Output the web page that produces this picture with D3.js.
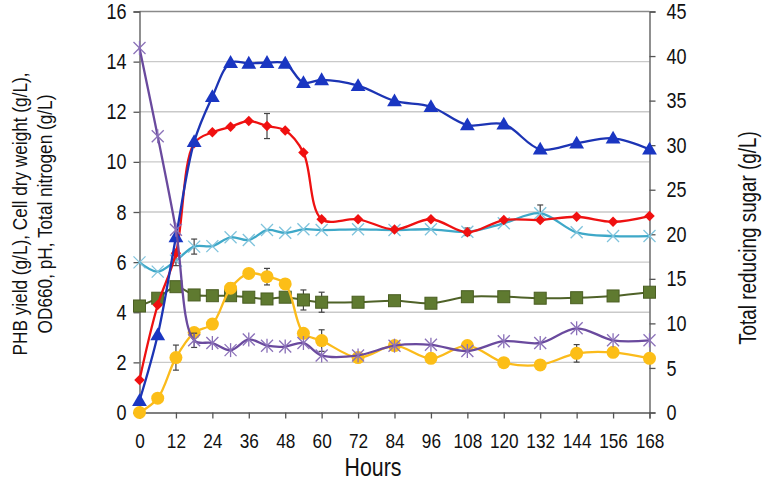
<!DOCTYPE html>
<html><head><meta charset="utf-8">
<script src="https://cdn.jsdelivr.net/npm/d3@7"></script>
<style>
body{margin:0;background:#fff;}
text{font-family:"Liberation Sans",Arial,sans-serif;fill:#111;}
</style></head><body>
<svg id="c" width="763" height="491"></svg>
<script>
const hours = [0,6,12,18,24,30,36,42,48,54,60,72,84,96,108,120,132,144,156,168];
const xTicks = [0,12,24,36,48,60,72,84,96,108,120,132,144,156,168];
const leftTicks = [0,2,4,6,8,10,12,14,16];
const rightTicks = [0,5,10,15,20,25,30,35,40,45];

const blueTri = [0.47,3.09,7.0,10.8,12.6,13.96,13.93,13.96,13.93,13.16,13.27,13.04,12.43,12.2,11.47,11.5,10.5,10.74,10.94,10.5];
const redDia = [1.3,4.29,6.35,10.74,11.18,11.4,11.63,11.43,11.25,10.37,7.71,7.71,7.3,7.71,7.19,7.68,7.68,7.81,7.61,7.84];
const cyanX = [5.99,5.62,6.06,6.62,6.64,6.99,6.88,7.28,7.17,7.31,7.28,7.31,7.28,7.31,7.21,7.55,7.95,7.19,7.04,7.04];
const greenSq = [4.25,4.56,5.02,4.69,4.66,4.66,4.6,4.53,4.6,4.49,4.4,4.4,4.46,4.36,4.62,4.62,4.56,4.58,4.65,4.8];
const yellowCi = [0,0.57,2.19,3.19,3.53,4.96,5.55,5.42,5.13,3.16,2.87,2.19,2.67,2.16,2.67,1.99,1.9,2.36,2.4,2.16];
const purpleSugar = [40.9,31.0,20.5,8.1,7.8,7.0,8.2,7.5,7.4,7.8,6.4,6.4,7.5,7.6,6.9,8.0,7.8,9.45,8.1,8.1];

const redErr = [[42,0.5]];
const cyanErr = [[12,0.2],[18,0.3],[108,0.15],[132,0.33]];
const greenErr = [[54,0.4],[60,0.4]];
const yellowErr = [[12,0.5],[30,0.2],[42,0.33],[60,0.43],[144,0.35]];
const purpleErr = [[18,0.8]];

const SX = 0.82; // horizontal squeeze to mimic a narrow typeface
const svg = d3.select("#c");
const x = d3.scaleLinear().domain([0,168]).range([139.5,649.5]);
const yL = d3.scaleLinear().domain([0,16]).range([412.5,11.5]);
const yR = d3.scaleLinear().domain([0,45]).range([412.5,11.5]);

// gridlines
svg.append("g").selectAll("line").data(leftTicks.filter(d=>d>0)).join("line")
  .attr("x1",x(0)).attr("x2",x(168)).attr("y1",d=>yL(d)).attr("y2",d=>yL(d))
  .attr("stroke",d=>d===16?"#8a8a8a":"#c9c9c9").attr("stroke-width",1.3);

function styleAxis(a, fs){
  a.select(".domain").attr("stroke","#555").attr("stroke-width",1.3);
  a.selectAll(".tick line").attr("stroke","#555").attr("stroke-width",1.3);
  a.selectAll(".tick text").attr("font-size",fs).attr("fill","#111")
   .style("font-family",'"Liberation Sans",Arial,sans-serif');
}
const axL = svg.append("g").attr("transform",`translate(${x(0)},0)`)
  .call(d3.axisLeft(yL).tickValues(leftTicks).tickSize(6).tickPadding(7).tickFormat(d3.format("d")));
styleAxis(axL, 22);
axL.selectAll(".tick text").attr("x",-13/SX).attr("transform",`scale(${SX},1)`);

const axR = svg.append("g").attr("transform",`translate(${x(168)},0)`)
  .call(d3.axisRight(yR).tickValues(rightTicks).tickSize(6).tickPadding(16).tickFormat(d3.format("d")));
styleAxis(axR, 22);
axR.selectAll(".tick text").attr("x",17/SX).attr("transform",`scale(${SX},1)`);

const axB = svg.append("g").attr("transform",`translate(0,${yL(0)})`)
  .call(d3.axisBottom(x).tickValues(xTicks).tickSize(6).tickPadding(12).tickFormat(d3.format("d")));
styleAxis(axB, 21);
axB.selectAll(".tick text")
  .attr("x",0).attr("y",0).attr("dy",null)
  .attr("dominant-baseline","central")
  .attr("transform",`translate(0,28) scale(${SX},1)`);

const curve = d3.curveCatmullRom.alpha(0.5);
function series(vals, yS, color, width){
  const line = d3.line().x((d,i)=>x(hours[i])).y(d=>yS(d)).curve(curve);
  svg.append("path").attr("d",line(vals)).attr("fill","none").attr("stroke",color).attr("stroke-width",width);
}
function errs(list, vals, yS){
  const g = svg.append("g").attr("stroke","#444").attr("stroke-width",1.2);
  list.forEach(([h,e])=>{
    const v = vals[hours.indexOf(h)];
    const cx = x(h);
    g.append("line").attr("x1",cx).attr("x2",cx).attr("y1",yS(v-e)).attr("y2",yS(v+e));
    g.append("line").attr("x1",cx-3).attr("x2",cx+3).attr("y1",yS(v-e)).attr("y2",yS(v-e));
    g.append("line").attr("x1",cx-3).attr("x2",cx+3).attr("y1",yS(v+e)).attr("y2",yS(v+e));
  });
}

// green squares
series(greenSq, yL, "#4f6228", 2);
errs(greenErr, greenSq, yL);
svg.append("g").selectAll("rect").data(greenSq).join("rect")
  .attr("x",(d,i)=>x(hours[i])-6).attr("y",d=>yL(d)-6).attr("width",12).attr("height",12)
  .attr("fill","#5f7a30").attr("stroke","#4a5e22").attr("stroke-width",1);

// yellow circles
series(yellowCi, yL, "#fbbb1b", 2.3);
errs(yellowErr, yellowCi, yL);
svg.append("g").selectAll("circle").data(yellowCi).join("circle")
  .attr("cx",(d,i)=>x(hours[i])).attr("cy",d=>yL(d)).attr("r",6.5).attr("fill","#fcbe17");

// cyan x
series(cyanX, yL, "#3ea8c8", 2.3);
errs(cyanErr, cyanX, yL);
const cg = svg.append("g").attr("stroke","#7fc3dc").attr("stroke-width",1.3);
cyanX.forEach((d,i)=>{
  const px=x(hours[i]), py=yL(d), s=6;
  cg.append("line").attr("x1",px-s).attr("y1",py-s).attr("x2",px+s).attr("y2",py+s);
  cg.append("line").attr("x1",px-s).attr("y1",py+s).attr("x2",px+s).attr("y2",py-s);
});

// red diamonds
series(redDia, yL, "#ee1111", 2.3);
errs(redErr, redDia, yL);
svg.append("g").selectAll("path").data(redDia).join("path")
  .attr("d",d3.symbol(d3.symbolDiamond2, 70))
  .attr("transform",(d,i)=>`translate(${x(hours[i])},${yL(d)})`)
  .attr("fill","#f01010");

// blue triangles
series(blueTri, yL, "#1c34b4", 2.3);
svg.append("g").selectAll("path").data(blueTri).join("path")
  .attr("d",d3.symbol(d3.symbolTriangle, 95))
  .attr("transform",(d,i)=>`translate(${x(hours[i])},${yL(d)+1})`)
  .attr("fill","#1a36c2");

// purple asterisks (right axis)
series(purpleSugar, yR, "#6a4a9e", 2.3);
errs(purpleErr, purpleSugar, yR);
const pg = svg.append("g").attr("stroke","#8a70b8").attr("stroke-width",1.3);
purpleSugar.forEach((d,i)=>{
  const px=x(hours[i]), py=yR(d), s=6;
  pg.append("line").attr("x1",px-s).attr("y1",py-s).attr("x2",px+s).attr("y2",py+s);
  pg.append("line").attr("x1",px-s).attr("y1",py+s).attr("x2",px+s).attr("y2",py-s);
  pg.append("line").attr("x1",px).attr("y1",py-s-1).attr("x2",px).attr("y2",py+s+1);
});

// titles
const lt = svg.append("text").attr("transform",`translate(27,214) rotate(-90) scale(${SX},1)`)
  .attr("text-anchor","middle").attr("font-size",21);
lt.append("tspan").attr("x",0).attr("dy",0).text("PHB yield (g/L), Cell dry weight (g/L),");
lt.append("tspan").attr("x",0).attr("dy",25).text("OD660, pH, Total nitrogen (g/L)");
svg.append("text").attr("transform",`translate(756,238) rotate(-90) scale(${SX},1)`)
  .attr("text-anchor","middle").attr("font-size",23).text("Total reducing sugar (g/L)");
svg.append("text").attr("transform",`translate(373,476) scale(${SX},1)`).attr("text-anchor","middle")
  .attr("font-size",26).text("Hours");
</script></body></html>
